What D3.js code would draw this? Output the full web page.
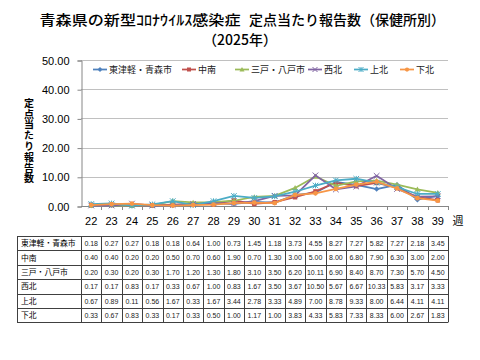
<!DOCTYPE html>
<html><head><meta charset="utf-8">
<script src="https://cdn.jsdelivr.net/npm/d3@7"></script>
<style>body{margin:0;background:#fff}svg{display:block}</style>
</head><body><svg id="c" width="480" height="360"></svg>
<script>
const weeks = [22,23,24,25,26,27,28,29,30,31,32,33,34,35,36,37,38,39];
const seriesNames = ["東津軽・青森市","中南","三戸・八戸市","西北","上北","下北"];
const s1 = [0.18,0.27,0.27,0.18,0.18,0.64,1.00,0.73,1.45,1.18,3.73,4.55,8.27,7.27,5.82,7.27,2.18,3.45];
const s2 = [0.40,0.40,0.20,0.20,0.50,0.70,0.60,1.90,0.70,1.30,3.00,5.00,8.00,6.80,7.90,6.30,3.00,2.00];
const s3 = [0.20,0.30,0.20,0.30,1.70,1.20,1.30,1.80,3.10,3.50,6.20,10.11,6.90,8.40,8.70,7.30,5.70,4.50];
const s4 = [0.17,0.17,0.83,0.17,0.33,0.67,1.00,0.83,1.67,3.50,3.67,10.50,5.67,6.67,10.33,5.83,3.17,3.33];
const s5 = [0.67,0.89,0.11,0.56,1.67,0.33,1.67,3.44,2.78,3.33,4.89,7.00,8.78,9.33,8.00,6.44,4.11,4.11];
const s6 = [0.33,0.67,0.83,0.33,0.17,0.33,0.50,1.00,1.17,1.00,3.83,4.33,5.83,7.33,8.33,6.00,2.67,1.83];
const yTicks = [0,10,20,30,40,50];
const titleA = "青森県の新型ｺﾛﾅｳｲﾙｽ感染症";
const titleB = "定点当たり報告数（保健所別）";
const titleC = "（2025年）";
const yTitle = "定点当たり報告数";
const xUnit = "週";
const colors = ["#4F81BD","#C0504D","#9BBB59","#8064A2","#4BACC6","#F79646"];
const markers = ["diamond","square","triangle","x","star","circle"];
const allSeries = [s1,s2,s3,s4,s5,s6];

const svg = d3.select("#c");
const JP = "'Noto Sans CJK JP','Liberation Sans',sans-serif";
const LS = "'Liberation Sans',Arial,sans-serif";

// title
svg.append("text").attr("x",39.5).attr("y",25)
  .attr("font-family",JP).attr("font-size",14).attr("font-weight",500).attr("fill","#000")
  .attr("textLength",201).attr("lengthAdjust","spacingAndGlyphs").text(titleA);
svg.append("text").attr("x",249).attr("y",25)
  .attr("font-family",JP).attr("font-size",14).attr("font-weight",500).attr("fill","#000")
  .attr("textLength",196).attr("lengthAdjust","spacingAndGlyphs").text(titleB);
svg.append("text").attr("x",240).attr("y",45).attr("text-anchor","middle")
  .attr("font-family",JP).attr("font-size",14).attr("font-weight",500).attr("fill","#000")
  .text(titleC);

const x = d3.scaleBand().domain(weeks).range([81,448]);
const y = d3.scaleLinear().domain([0,50]).range([206,60]);

// gridlines
svg.append("g").selectAll("line").data(yTicks.filter(d=>d>0)).join("line")
  .attr("x1",81).attr("x2",448).attr("y1",d=>Math.round(y(d))+0.5).attr("y2",d=>Math.round(y(d))+0.5)
  .attr("stroke","#c0c0c0").attr("stroke-width",1);

// y axis
const ya = svg.append("g").attr("transform","translate(81.5,0.5)")
  .call(d3.axisLeft(y).tickValues(yTicks).tickSize(4).tickPadding(8).tickFormat(d3.format(".2f")));
ya.select(".domain").attr("stroke","#868686");
ya.selectAll(".tick line").attr("stroke","#868686");
ya.selectAll("text").attr("font-family",LS).attr("font-size",11).attr("fill","#000");

// x axis
const xa = svg.append("g").attr("transform","translate(0,206.5)")
  .call(d3.axisBottom(x).tickSize(0).tickPadding(11));
xa.select(".domain").attr("stroke","#868686").attr("d","M81,0H448");
xa.selectAll("text").attr("font-family",LS).attr("font-size",11).attr("fill","#000").attr("dy","0.71em");
svg.append("g").selectAll("line").data(weeks).join("line")
  .attr("x1",(d,i)=>Math.round(81+x.step()*(i+1))+0.5).attr("x2",(d,i)=>Math.round(81+x.step()*(i+1))+0.5)
  .attr("y1",206).attr("y2",210).attr("stroke","#868686");
svg.append("text").attr("x",458).attr("y",225).attr("font-family",JP).attr("font-size",11)
  .attr("text-anchor","middle").text(xUnit);

// y title vertical
svg.append("text").attr("x",29).attr("y",98)
  .attr("writing-mode","vertical-rl").style("text-orientation","upright")
  .attr("letter-spacing",0.8)
  .attr("font-family",JP).attr("font-size",10).attr("font-weight",700).text(yTitle);

// marker drawing
function drawMarker(g, type, color, cx, cy, s){
  if(type==="diamond"){
    g.append("path").attr("d",`M${cx},${cy-s}L${cx+s},${cy}L${cx},${cy+s}L${cx-s},${cy}Z`).attr("fill",color);
  } else if(type==="square"){
    g.append("rect").attr("x",cx-s*0.8).attr("y",cy-s*0.8).attr("width",s*1.6).attr("height",s*1.6).attr("fill",color);
  } else if(type==="triangle"){
    g.append("path").attr("d",`M${cx},${cy-s}L${cx+s},${cy+s*0.8}L${cx-s},${cy+s*0.8}Z`).attr("fill",color);
  } else if(type==="x"){
    g.append("path").attr("d",`M${cx-s},${cy-s}L${cx+s},${cy+s}M${cx-s},${cy+s}L${cx+s},${cy-s}`).attr("stroke",color).attr("stroke-width",1);
  } else if(type==="star"){
    g.append("path").attr("d",`M${cx-s},${cy-s}L${cx+s},${cy+s}M${cx-s},${cy+s}L${cx+s},${cy-s}M${cx},${cy-s}L${cx},${cy+s}`).attr("stroke",color).attr("stroke-width",1);
  } else {
    g.append("circle").attr("cx",cx).attr("cy",cy).attr("r",s*0.85).attr("fill",color);
  }
}

const line = d3.line().x((d,i)=>x(weeks[i])+x.bandwidth()/2).y(d=>y(d));
allSeries.forEach((s,k)=>{
  const g = svg.append("g");
  g.append("path").datum(s).attr("d",line).attr("fill","none").attr("stroke",colors[k]).attr("stroke-width",1.75);
  s.forEach((v,i)=>drawMarker(g,markers[k],colors[k],x(weeks[i])+x.bandwidth()/2,y(v),2.8));
});

// legend
const legX = [93,182,235,308,354,400];
seriesNames.forEach((n,k)=>{
  const g = svg.append("g");
  g.append("line").attr("x1",legX[k]).attr("x2",legX[k]+14).attr("y1",69.5).attr("y2",69.5).attr("stroke",colors[k]).attr("stroke-width",1.75);
  drawMarker(g,markers[k],colors[k],legX[k]+7,69.5,2.5);
  g.append("text").attr("x",legX[k]+16).attr("y",73).attr("font-family",JP).attr("font-size",9).attr("fill","#222").text(n);
});

// table
const tTop = 236, rowH = 14.4, tLeft = 17;
const tg = svg.append("g");
const fmt = d3.format(".2f");
allSeries.forEach((s,k)=>{
  const yy = tTop + k*rowH;
  tg.append("text").attr("x",tLeft+4).attr("y",yy+rowH/2+3).attr("font-family",JP).attr("font-size",7.8).attr("fill","#000").text(seriesNames[k]);
  s.forEach((v,i)=>{
    tg.append("text").attr("x",x(weeks[i])+x.bandwidth()/2).attr("y",yy+rowH/2+2.8).attr("text-anchor","middle")
      .attr("font-family",LS).attr("font-size",7).attr("fill","#222").text(fmt(v));
  });
});
for(let r=0;r<=6;r++){
  tg.append("line").attr("x1",tLeft).attr("x2",448).attr("y1",Math.round(tTop+r*rowH)+0.5).attr("y2",Math.round(tTop+r*rowH)+0.5).attr("stroke","#404040");
}
tg.append("line").attr("x1",tLeft+0.5).attr("x2",tLeft+0.5).attr("y1",tTop).attr("y2",tTop+6*rowH).attr("stroke","#404040");
for(let i=0;i<=weeks.length;i++){
  const xx = Math.round(81+i*x.step())+0.5;
  tg.append("line").attr("x1",xx).attr("x2",xx).attr("y1",tTop).attr("y2",tTop+6*rowH).attr("stroke","#404040");
}
</script></body></html>
